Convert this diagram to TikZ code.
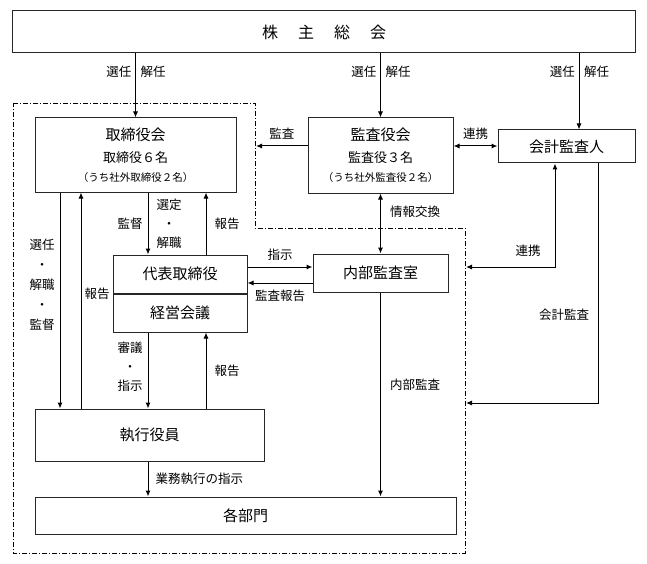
\documentclass[tikz,border=0pt]{standalone}
\usepackage{fontspec}
\setmainfont{Noto Sans CJK JP}
\usetikzlibrary{arrows.meta}

\begin{document}
\begin{tikzpicture}[x=1pt,y=-1pt,
    box/.style={draw=black!85,line width=1pt,inner sep=0pt,font=\fontsize{15}{21}\selectfont},
    lbl/.style={inner sep=0pt,font=\fontsize{12.5}{20}\selectfont,align=center},
    arr/.style={line width=1pt,-{Latex[length=6pt,width=5pt]}},
    darr/.style={line width=1pt,{Latex[length=6pt,width=5pt]}-{Latex[length=6pt,width=5pt]}},
    bound/.style={line width=0.8pt,dash pattern=on 5pt off 2pt on 1pt off 2pt}]
    \useasboundingbox (0,0) rectangle (647,564);
    % boxes
    \node[box,minimum width=623pt,minimum height=42pt,font=\fontsize{16}{18}\selectfont] (gm) at (324,32)
        {株\hspace{20pt}主\hspace{20pt}総\hspace{20pt}会};
    \node[box,minimum width=201pt,minimum height=74pt,align=center] (board) at (135.5,155)
        {取締役会\\[1pt]{\fontsize{13}{14}\selectfont 取締役６名}\\[-2pt]{\fontsize{10.5}{12}\selectfont （うち社外取締役２名）}};
    \node[box,minimum width=145pt,minimum height=75pt,align=center] (kansa) at (380.5,155.5)
        {監査役会\\[1pt]{\fontsize{13}{14}\selectfont 監査役３名}\\[-2pt]{\fontsize{10.5}{12}\selectfont （うち社外監査役２名）}};
    \node[box,minimum width=137pt,minimum height=33pt] (auditor) at (566.5,146.5) {会計監査人};
    \node[box,minimum width=134pt,minimum height=38pt] (ceo) at (180,274) {代表取締役};
    \node[box,minimum width=134pt,minimum height=38pt,anchor=north] (mtg) at (ceo.south) {経営会議};
    \node[box,minimum width=135pt,minimum height=38pt] (naibu) at (380.5,273) {内部監査室};
    \node[box,minimum width=229pt,minimum height=52pt] (exec) at (149.5,435) {執行役員};
    \node[box,minimum width=421pt,minimum height=37pt] (dept) at (245.5,515.5) {各部門};
    % dash-dot boundary
    \draw[bound] (13,103) -- (255,103) -- (255,228) -- (465,228) -- (465,553) -- (13,553) -- cycle;
    \coordinate (bndL) at (256,0);
    \coordinate (bndR) at (466,0);
    % line positions
    \coordinate (xa) at (60,0);
    \coordinate (xb) at (81,0);
    \coordinate (xc) at (148,0);
    \coordinate (xd) at (206,0);
    \coordinate (xe) at (555,0);
    \coordinate (xf) at (598,0);
    \coordinate (xg) at (579,0);
    \coordinate (ya) at (0,146);
    \coordinate (yb) at (0,267);
    \coordinate (yc) at (0,283);
    \coordinate (yd) at (0,403);
    % shareholders meeting
    \draw[arr] (gm.south -| board.north) -- (board.north);
    \draw[arr] (gm.south -| kansa.north) -- (kansa.north);
    \draw[arr] (gm.south -| xg) -- (auditor.north -| xg);
    \foreach \x in {135.5,380.5,579} {
        \node[lbl,anchor=east] at (\x-4,72) {選任};
        \node[lbl,anchor=west] at (\x+5,72) {解任};
    }
    % audit board
    \draw[arr] (kansa.west |- ya) -- (bndL |- ya) node[lbl,midway,above=6pt] {監査};
    \draw[darr] (kansa.east |- ya) -- (auditor.west |- ya) node[lbl,midway,above=6pt] {連携};
    \draw[darr] (kansa.south) -- (naibu.north) node[lbl,pos=0.3,right=9pt] {情報交換};
    % board and executives
    \draw[arr] (board.south -| xa) -- (exec.north -| xa);
    \node[lbl] (sel) at (42,285) {選任\\・\\解職\\・\\監督};
    \draw[arr] (exec.north -| xb) -- (board.south -| xb) node[lbl,pos=0.53,right=3pt] {報告};
    \draw[arr] (board.south -| xc) -- (ceo.north -| xc) node[lbl,midway,left=5pt] {監督};
    \node[lbl,font=\fontsize{12.5}{19}\selectfont] (sentei) at (169,224) {選定\\・\\解職};
    \draw[arr] (ceo.north -| xd) -- (board.south -| xd) node[lbl,midway,right=8pt] {報告};
    \draw[arr] (ceo.east |- yb) -- (naibu.west |- yb) node[lbl,midway,above=6pt] {指示};
    \draw[arr] (naibu.west |- yc) -- (ceo.east |- yc) node[lbl,midway,below=6pt] {監査報告};
    \draw[arr] (mtg.south -| xc) -- (exec.north -| xc);
    \node[lbl,font=\fontsize{12.5}{19}\selectfont] (shingi) at (130,367) {審議\\・\\指示};
    \draw[arr] (exec.north -| xd) -- (mtg.south -| xd) node[lbl,midway,right=8pt] {報告};
    \draw[arr] (exec.south -| xc) -- (dept.north -| xc) node[lbl,pos=0.5,right=7pt] {業務執行の指示};
    \draw[arr] (naibu.south) -- (dept.north -| naibu) node[lbl,pos=0.45,right=9pt] {内部監査};
    % accounting auditor
    \draw[darr] (auditor.south -| xe) -- (xe |- yb) -- (bndR |- yb);
    \node[lbl] (renkei) at (528,251) {連携};
    \draw[arr] (auditor.south -| xf) -- (xf |- yd) -- (bndR |- yd);
    \node[lbl] (kaikei) at (564,315) {会計監査};
\end{tikzpicture}
\end{document}
